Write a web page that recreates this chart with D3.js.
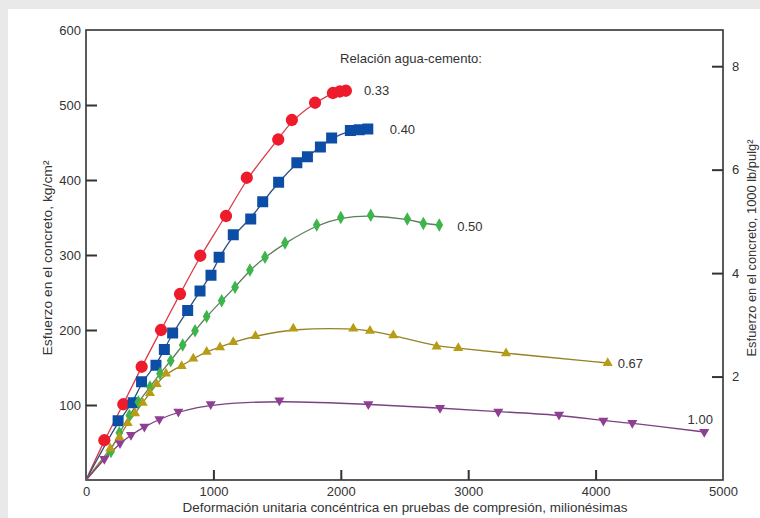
<!DOCTYPE html>
<html>
<head>
<meta charset="utf-8">
<script src="https://cdn.jsdelivr.net/npm/d3@7"></script>
<style>
  html, body { margin: 0; padding: 0; background: #e9e9e9; }
  svg { display: block; }
  text { font-family: "Liberation Sans", Arial, sans-serif; fill: #333; }
</style>
</head>
<body>
<svg id="chart" width="760" height="518"></svg>
<script>
// ---- Data ----
const seriesLabels = ["0.33", "0.40", "0.50", "0.67", "1.00"];

const strain033 = [144, 293, 437, 589, 738, 897, 1099, 1262, 1509, 1616, 1798, 1938, 1992, 2040];
const stress033 = [53, 101, 151, 200, 248, 299, 352, 403, 454, 480, 503, 516, 518, 519];

const strain040 = [252, 370, 436, 549, 615, 680, 798, 895, 981, 1045, 1156, 1293, 1387, 1512, 1655, 1738, 1840, 1928, 2075, 2145, 2212];
const stress040 = [79, 103, 131, 153, 174, 196, 226, 252, 273, 297, 327, 348, 371, 397, 423, 431, 444, 456, 466, 467, 468];

const strain050 = [196, 262, 340, 411, 502, 581, 665, 759, 856, 947, 1065, 1170, 1287, 1405, 1562, 1811, 2000, 2235, 2522, 2648, 2773];
const stress050 = [38, 63, 86, 104, 124, 142, 159, 180, 199, 218, 239, 257, 280, 297, 316, 340, 350, 353, 348, 342, 340];

const strain067 = [190, 262, 327, 385, 445, 502, 555, 628, 751, 842, 947, 1052, 1156, 1330, 1627, 2098, 2229, 2412, 2752, 2922, 3297, 4095];
const stress067 = [42, 57, 76, 89, 103, 116, 128, 142, 152, 162, 171, 177, 184, 192, 202, 202, 199, 193, 178, 176, 169, 156];

const strain100 = [144, 267, 353, 458, 576, 725, 979, 1518, 2216, 2779, 3236, 3713, 4061, 4288, 4853];
const stress100 = [28, 49, 60, 71, 81, 91, 101, 106, 101, 96, 91, 87, 79, 76, 64];

const xTicks = [0, 1000, 2000, 3000, 4000, 5000];
const yTicks = [100, 200, 300, 400, 500, 600];
const yRightTicks = [2, 4, 6, 8];
const xDomain = [0, 5000];
const yDomain = [0, 600];
const yRightDomain = [0, 8.7];

const xTitle = "Deformación unitaria concéntrica en pruebas de compresión, milionésimas";
const yTitle = "Esfuerzo en el concreto, kg/cm²";
const yRightTitle = "Esfuerzo en el concreto, 1000 lb/pulg²";
const legendTitle = "Relación agua-cemento:";

// ---- Drawing ----
(function () {
const svg = d3.select("#chart");
svg.append("rect").attr("x", 8).attr("y", 9).attr("width", 752).attr("height", 509).attr("fill", "#fff");

const mL = 86, mR = 723, mT = 30, mB = 480;
const x = d3.scaleLinear().domain(xDomain).range([mL, mR]);
const y = d3.scaleLinear().domain(yDomain).range([mB, mT]);
const yR = d3.scaleLinear().domain(yRightDomain).range([mB, mT]);

const frameColor = "#333";
const fmt = d3.format("d");

// axes
const gx = svg.append("g").attr("transform", `translate(0,${mB})`)
  .call(d3.axisBottom(x).tickValues(xTicks).tickFormat(fmt).tickSizeInner(-10).tickSizeOuter(0).tickPadding(7));
const gy = svg.append("g").attr("transform", `translate(${mL},0)`)
  .call(d3.axisLeft(y).tickValues(yTicks).tickFormat(fmt).tickSizeInner(-11).tickSizeOuter(0).tickPadding(5));
const gyr = svg.append("g").attr("transform", `translate(${mR},0)`)
  .call(d3.axisRight(yR).tickValues(yRightTicks).tickFormat(fmt).tickSizeInner(-11).tickSizeOuter(0).tickPadding(9));

[gx, gy, gyr].forEach(g => {
  g.select(".domain").remove();
  g.selectAll(".tick line").attr("stroke", frameColor).attr("stroke-width", 2);
  g.selectAll(".tick text").attr("fill", "#333").style("font-size", "13px")
    .style("font-family", '"Liberation Sans", Arial, sans-serif');
});
gx.selectAll(".tick").filter(d => d === 0 || d === 5000).select("line").remove();
gy.selectAll(".tick").filter(d => d === 600).select("line").remove();

// frame
svg.append("rect").attr("x", mL).attr("y", mT).attr("width", mR - mL).attr("height", mB - mT)
  .attr("fill", "none").attr("stroke", frameColor).attr("stroke-width", 1.6);

// series
const series = [
  { label: seriesLabels[0], xs: strain033, ys: stress033, fill: "#ee1b2d", line: "#d93a48", sym: d3.symbolCircle, size: 118, rot: 0 },
  { label: seriesLabels[1], xs: strain040, ys: stress040, fill: "#0c4ea5", line: "#2f4f80", sym: d3.symbolSquare, size: 121, rot: 0 },
  { label: seriesLabels[2], xs: strain050, ys: stress050, fill: "#3db54a", line: "#5b7f5c", sym: d3.symbolDiamond, size: 52, rot: 0 },
  { label: seriesLabels[3], xs: strain067, ys: stress067, fill: "#b89d14", line: "#958326", sym: d3.symbolTriangle, size: 44, rot: 0 },
  { label: seriesLabels[4], xs: strain100, ys: stress100, fill: "#8f3e93", line: "#7a4280", sym: d3.symbolTriangle, size: 44, rot: 180 }
];

const lineGen = d3.line().x(d => x(d[0])).y(d => y(d[1])).curve(d3.curveBasis);

series.forEach(s => {
  const pts = s.xs.map((v, i) => [v, s.ys[i]]);
  svg.append("path").datum([[0, 0]].concat(pts))
    .attr("d", lineGen).attr("fill", "none").attr("stroke", s.line).attr("stroke-width", 1.3);
});

series.forEach(s => {
  const pts = s.xs.map((v, i) => [v, s.ys[i]]);
  svg.append("g").selectAll("path").data(pts).join("path")
    .attr("d", d3.symbol().type(s.sym).size(s.size))
    .attr("transform", d => `translate(${x(d[0])},${y(d[1])}) rotate(${s.rot})`)
    .attr("fill", s.fill);
});

// series labels next to each series' last point
const labelOffsets = [[18, 0], [22, 0], [18, 1], [10, 0], [-4, -13]];
series.forEach((s, i) => {
  const n = s.xs.length - 1;
  const o = labelOffsets[i];
  svg.append("text")
    .attr("x", x(s.xs[n]) + o[0]).attr("y", y(s.ys[n]) + o[1])
    .attr("dy", "0.35em")
    .attr("text-anchor", i === 4 ? "middle" : "start")
    .style("font-size", "13px")
    .text(s.label);
});

// legend title
svg.append("text").attr("x", 340).attr("y", 58).attr("dy", "0.35em")
  .style("font-size", "13px").attr("textLength", 142).attr("lengthAdjust", "spacingAndGlyphs")
  .text(legendTitle);

// axis titles
svg.append("text").attr("x", 405).attr("y", 512)
  .attr("text-anchor", "middle").style("font-size", "12.5px")
  .attr("textLength", 445).attr("lengthAdjust", "spacingAndGlyphs").text(xTitle);
svg.append("text").attr("transform", `translate(52,258) rotate(-90)`)
  .attr("text-anchor", "middle").style("font-size", "12.5px")
  .attr("textLength", 195).attr("lengthAdjust", "spacingAndGlyphs").text(yTitle);
svg.append("text").attr("transform", `translate(756,248) rotate(-90)`)
  .attr("text-anchor", "middle").style("font-size", "12.5px")
  .attr("textLength", 217).attr("lengthAdjust", "spacingAndGlyphs").text(yRightTitle);
})();
</script>
</body>
</html>
